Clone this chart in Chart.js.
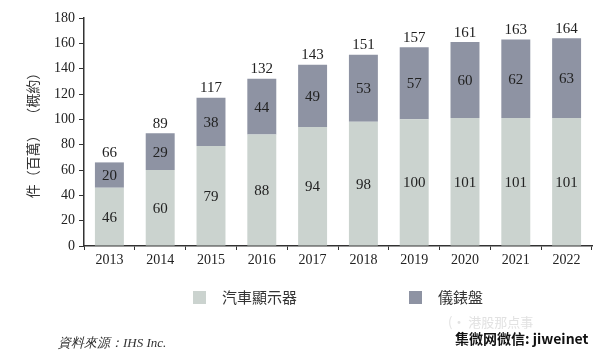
<!DOCTYPE html>
<html>
<head>
<meta charset="utf-8">
<script src="https://cdn.jsdelivr.net/npm/chart.js@4/dist/chart.umd.min.js"></script>
<style>
html,body{margin:0;padding:0;background:#fff;}
#wrap{position:relative;width:600px;height:358px;}
</style>
</head>
<body>
<div id="wrap"><canvas id="c" width="600" height="358"></canvas></div>
<script>
const years = ['2013','2014','2015','2016','2017','2018','2019','2020','2021','2022'];
const displayUnits = [46,60,79,88,94,98,100,101,101,101];
const clusterUnits = [20,29,38,44,49,53,57,60,62,63];
const totals = [66,89,117,132,143,151,157,161,163,164];
const yTicks = [0,20,40,60,80,100,120,140,160,180];
const seriesNames = ['汽車顯示器','儀錶盤'];
const yTitle = '件（百萬）  （概約）';
const sourceText = '資料來源：IHS Inc.';

const serif = '"Liberation Serif","Times New Roman",serif';
const cjk = '"Noto Sans CJK TC","Noto Sans CJK SC",sans-serif';

const labelPlugin = {
  id:'labels',
  afterDatasetsDraw(chart){
    const ctx = chart.ctx;
    ctx.save();
    ctx.fillStyle = '#222';
    ctx.font = '15px ' + serif;
    ctx.textAlign = 'center';
    ctx.textBaseline = 'middle';
    chart.data.datasets.forEach((ds,di)=>{
      const meta = chart.getDatasetMeta(di);
      meta.data.forEach((bar,i)=>{
        const p = bar.getProps(['x','y','base'],true);
        ctx.fillText(String(ds.data[i]), p.x, (p.y+p.base)/2 + 1);
      });
    });
    const top = chart.getDatasetMeta(1);
    top.data.forEach((bar,i)=>{
      const p = bar.getProps(['x','y'],true);
      ctx.textBaseline = 'bottom';
      ctx.fillText(String(totals[i]), p.x, p.y - 2);
    });
    // legend
    const items = [{x:193,label:seriesNames[0],c:chart.data.datasets[0].backgroundColor},
                   {x:409,label:seriesNames[1],c:chart.data.datasets[1].backgroundColor}];
    items.forEach(it=>{
      ctx.fillStyle = it.c;
      ctx.fillRect(it.x, 291, 13, 13);
      ctx.fillStyle = '#333';
      ctx.font = '15px ' + cjk;
      ctx.textAlign = 'left';
      ctx.textBaseline = 'middle';
      ctx.fillText(it.label, it.x + 29, 297);
    });
    // source
    ctx.font = 'italic 13px ' + serif;
    ctx.fillStyle = '#333';
    ctx.textAlign = 'left';
    ctx.fillText(sourceText, 58, 344);
    // watermark
    ctx.font = '13px ' + cjk;
    ctx.fillStyle = '#e2e2e2';
    ctx.fillText('(\u00b7 港股那点事', 448, 322);
    ctx.font = 'bold 14px ' + cjk;
    ctx.fillStyle = '#111';
    ctx.fillText('集微网微信: jiweinet', 455, 339);
    ctx.restore();
  }
};

new Chart(document.getElementById('c'), {
  type:'bar',
  data:{
    labels: years,
    datasets:[
      {label:seriesNames[0], data:displayUnits, backgroundColor:'#cbd3cf', barPercentage:0.57, categoryPercentage:1},
      {label:seriesNames[1], data:clusterUnits, backgroundColor:'#8e93a3', barPercentage:0.57, categoryPercentage:1}
    ]
  },
  options:{
    responsive:false,
    animation:false,
    devicePixelRatio:1,
    layout:{padding:{left:0,right:8,top:18,bottom:0}},
    plugins:{legend:{display:false},tooltip:{enabled:false}},
    scales:{
      x:{
        stacked:true,
        offset:true,
        grid:{display:true,drawOnChartArea:false,drawTicks:true,tickLength:4,color:'#333',offset:true},
        border:{display:true,color:'#333',width:1.5},
        ticks:{color:'#222',font:{family:serif,size:14},padding:2,maxRotation:0},
        afterFit(s){s.height = 112;}
      },
      y:{
        stacked:true,
        min:0,max:180,
        afterBuildTicks(s){s.ticks = yTicks.map(v=>({value:v}));},
        grid:{display:true,drawOnChartArea:false,drawTicks:true,tickLength:5,color:'#333'},
        border:{display:true,color:'#333',width:1.5},
        ticks:{color:'#222',font:{family:serif,size:14},padding:4},
        title:{display:true,text:yTitle,color:'#333',font:{family:cjk,size:14},padding:{top:24,bottom:10}},
        afterFit(s){s.width = 84;}
      }
    }
  },
  plugins:[labelPlugin]
});
</script>
</body>
</html>
